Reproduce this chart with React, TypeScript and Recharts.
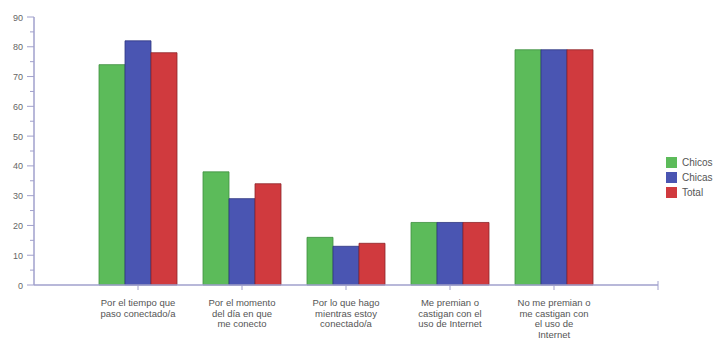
import React from 'react';
import { BarChart, Bar, XAxis, YAxis, usePlotArea } from 'recharts';

const categories = [
  ['Por el tiempo que', 'paso conectado/a'],
  ['Por el momento', 'del día en que', 'me conecto'],
  ['Por lo que hago', 'mientras estoy', 'conectado/a'],
  ['Me premian o', 'castigan con el', 'uso de Internet'],
  ['No me premian o', 'me castigan con', 'el uso de', 'Internet'],
];
const chicos = [74, 38, 16, 21, 79];
const chicas = [82, 29, 13, 21, 79];
const total = [78, 34, 14, 21, 79];
const yTicks = [0, 5, 10, 15, 20, 25, 30, 35, 40, 45, 50, 55, 60, 65, 70, 75, 80, 85, 90];
const seriesNames = ['Chicos', 'Chicas', 'Total'];

const data = categories.map((c, i) => ({
  name: String(i),
  chicos: chicos[i],
  chicas: chicas[i],
  total: total[i],
}));

const COLORS = ['#5cbb5a', '#4a55b2', '#d03a3e'];
const STROKES = ['#3f8f40', '#2e3680', '#8e2428'];
const AXIS = '#a0a0cc';
const FONT = '"Liberation Sans", Arial, sans-serif';

const YTick = (props: any) => {
  const { x, y, payload } = props;
  const v = payload.value;
  const major = v % 10 === 0;
  return (
    <g>
      <line x1={x - (major ? 7 : 4)} x2={x} y1={y} y2={y} stroke={AXIS} strokeWidth={1} />
      {major && (
        <text x={x - 11} y={y} dy={3.5} textAnchor="end" fontSize={9} fill="#666" fontFamily={FONT}>
          {v}
        </text>
      )}
    </g>
  );
};

const XTick = (props: any) => {
  const { x, y, payload } = props;
  const lines = categories[Number(payload.value)] || [];
  return (
    <g>
      <line x1={x} x2={x} y1={y} y2={y + 5} stroke={AXIS} strokeWidth={1} />
      {lines.map((l, i) => (
        <text key={i} x={x} y={y + 21 + i * 10.5} textAnchor="middle" fontSize={9.5} fill="#555" fontFamily={FONT}>
          {l}
        </text>
      ))}
    </g>
  );
};

const EndTick = () => {
  const area: any = usePlotArea ? usePlotArea() : null;
  if (!area) return null;
  const xe = area.x + area.width;
  const yb = area.y + area.height;
  return <line x1={xe} x2={xe} y1={yb - 4} y2={yb + 5} stroke={AXIS} strokeWidth={1} />;
};

export default function App() {
  return (
    <div style={{ position: 'absolute', left: 0, top: 0, width: 721, height: 346, background: '#fff' }}>
      <BarChart
        width={721}
        height={346}
        data={data}
        margin={{ top: 17, right: 63, bottom: 0, left: 0 }}
        barCategoryGap="12.5%"
        barGap={0}
      >
        <XAxis
          dataKey="name"
          height={61}
          padding={{ left: 52, right: 52 }}
          axisLine={{ stroke: AXIS, strokeWidth: 1.5 }}
          tickLine={false}
          tickSize={0}
          tickMargin={0}
          interval={0}
          tick={<XTick />}
        />
        <YAxis
          width={34}
          domain={[0, 90]}
          ticks={yTicks}
          interval={0}
          axisLine={{ stroke: AXIS, strokeWidth: 1.5 }}
          tickLine={false}
          tickSize={0}
          tickMargin={0}
          tick={<YTick />}
        />
        <Bar dataKey="chicos" fill={COLORS[0]} stroke={STROKES[0]} strokeWidth={0.8} isAnimationActive={false} />
        <Bar dataKey="chicas" fill={COLORS[1]} stroke={STROKES[1]} strokeWidth={0.8} isAnimationActive={false} />
        <Bar dataKey="total" fill={COLORS[2]} stroke={STROKES[2]} strokeWidth={0.8} isAnimationActive={false} />
        <EndTick />
      </BarChart>
      <div style={{ position: 'absolute', left: 666, top: 155, fontFamily: FONT, fontSize: 10, color: '#555' }}>
        {seriesNames.map((n, i) => (
          <div key={n} style={{ display: 'flex', alignItems: 'center', height: 15 }}>
            <div style={{ width: 11, height: 11, background: COLORS[i], marginRight: 5 }} />
            <span>{n}</span>
          </div>
        ))}
      </div>
    </div>
  );
}
